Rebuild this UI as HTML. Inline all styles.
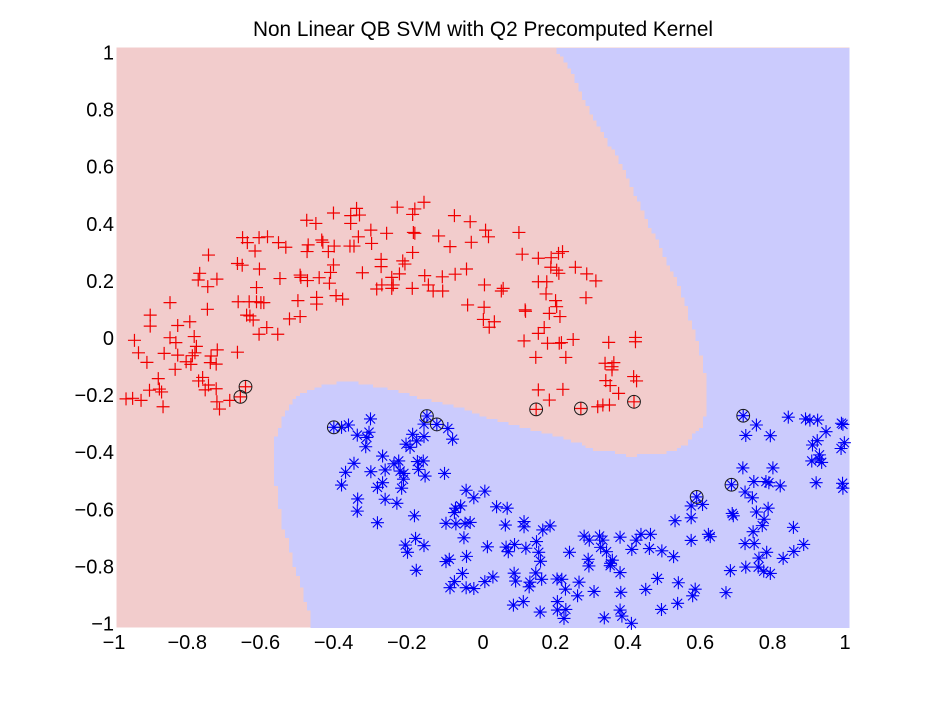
<!DOCTYPE html>
<html>
<head>
<meta charset="utf-8">
<title>Non Linear QB SVM with Q2 Precomputed Kernel</title>
<style>
html,body{margin:0;padding:0;background:#fff;width:933px;height:702px;overflow:hidden}
svg{display:block}
text{font-family:"Liberation Sans",Arial,sans-serif;fill:#000}
</style>
</head>
<body>
<svg id="chart" xmlns="http://www.w3.org/2000/svg" width="933" height="702" viewBox="0 0 933 702">
<text x="483" y="36" text-anchor="middle" font-size="20.8">Non Linear QB SVM with Q2 Precomputed Kernel</text>
<g id="regions"></g>
<g id="red-series"></g>
<g id="blue-series"></g>
<g id="sv-series"></g>
<g id="x-ticks"></g>
<g id="y-ticks"></g>
</svg>
<script>
const xTicks = [-1,-0.8,-0.6,-0.4,-0.2,0,0.2,0.4,0.6,0.8,1];
const yTicks = [1,0.8,0.6,0.4,0.2,0,-0.2,-0.4,-0.6,-0.8,-1];
const xLimits = [-1,1];
const yLimits = [-1,1];
const boundaryPoints = [[0.199,1],[0.210,0.966],[0.246,0.900],[0.270,0.831],[0.289,0.779],[0.319,0.724],[0.349,0.655],[0.379,0.586],[0.396,0.538],[0.417,0.486],[0.437,0.431],[0.458,0.372],[0.477,0.328],[0.497,0.269],[0.516,0.224],[0.527,0.203],[0.535,0.166],[0.546,0.134],[0.557,0.097],[0.565,0.062],[0.573,0.028],[0.584,-0.014],[0.595,-0.062],[0.606,-0.131],[0.606,-0.266],[0.595,-0.317],[0.584,-0.324],[0.573,-0.341],[0.565,-0.362],[0.554,-0.369],[0.535,-0.379],[0.516,-0.393],[0.486,-0.400],[0.401,-0.407],[0.374,-0.397],[0.311,-0.386],[0.265,-0.362],[0.120,-0.310],[0.038,-0.283],[-0.044,-0.248],[-0.117,-0.221],[-0.180,-0.203],[-0.240,-0.179],[-0.281,-0.169],[-0.341,-0.155],[-0.390,-0.155],[-0.439,-0.166],[-0.491,-0.190],[-0.513,-0.214],[-0.540,-0.255],[-0.548,-0.293],[-0.568,-0.362],[-0.568,-0.500],[-0.559,-0.548],[-0.548,-0.652],[-0.532,-0.707],[-0.518,-0.790],[-0.499,-0.834],[-0.491,-0.903],[-0.472,-0.948],[-0.469,-1],[1,-1],[1,1]];
const redPoints = [[-0.974,-0.210],[-0.956,-0.208],[-0.933,-0.215],[-0.873,-0.237],[-0.910,-0.180],[-0.886,-0.140],[-0.883,-0.176],[-0.877,-0.186],[-0.776,-0.148],[-0.765,-0.136],[-0.749,-0.162],[-0.758,-0.179],[-0.728,-0.175],[-0.726,-0.220],[-0.719,-0.245],[-0.691,-0.215],[-0.662,-0.203],[-0.648,-0.168],[-0.840,-0.108],[-0.810,-0.082],[-0.797,-0.091],[-0.793,-0.061],[-0.786,-0.051],[-0.782,-0.029],[-0.788,0.005],[-0.833,-0.059],[-0.870,-0.053],[-0.917,-0.084],[-0.940,-0.051],[-0.951,-0.008],[-0.854,0.001],[-0.838,-0.016],[-0.744,-0.085],[-0.728,-0.090],[-0.742,-0.062],[-0.725,-0.041],[-0.670,-0.049],[-0.908,0.079],[-0.908,0.041],[-0.833,0.043],[-0.800,0.056],[-0.752,0.099],[-0.854,0.122],[-0.749,0.286],[-0.773,0.223],[-0.777,0.200],[-0.726,0.203],[-0.751,0.177],[-0.668,0.125],[-0.638,0.125],[-0.618,0.174],[-0.610,0.238],[-0.670,0.257],[-0.657,0.251],[-0.622,0.300],[-0.656,0.346],[-0.643,0.329],[-0.611,0.346],[-0.588,0.349],[-0.558,0.329],[-0.538,0.313],[-0.481,0.406],[-0.456,0.395],[-0.408,0.431],[-0.618,0.125],[-0.606,0.122],[-0.598,0.122],[-0.645,0.079],[-0.636,0.076],[-0.627,0.062],[-0.590,0.036],[-0.611,0.013],[-0.560,0.013],[-0.528,0.066],[-0.499,0.074],[-0.505,0.129],[-0.454,0.140],[-0.454,0.117],[-0.401,0.146],[-0.554,0.205],[-0.499,0.217],[-0.497,0.209],[-0.479,0.198],[-0.447,0.208],[-0.419,0.189],[-0.416,0.226],[-0.408,0.252],[-0.480,0.298],[-0.477,0.321],[-0.440,0.338],[-0.437,0.330],[-0.422,0.298],[-0.406,0.317],[-0.345,0.447],[-0.361,0.422],[-0.337,0.424],[-0.361,0.395],[-0.234,0.451],[-0.186,0.445],[-0.192,0.426],[-0.161,0.468],[-0.078,0.422],[-0.035,0.401],[0.007,0.372],[0.015,0.349],[0.098,0.364],[-0.306,0.372],[-0.263,0.361],[-0.190,0.364],[-0.186,0.361],[-0.340,0.349],[-0.304,0.326],[-0.363,0.317],[-0.352,0.317],[-0.121,0.352],[-0.090,0.315],[-0.032,0.330],[-0.192,0.295],[-0.278,0.271],[-0.278,0.246],[-0.219,0.266],[-0.213,0.255],[-0.228,0.221],[-0.249,0.209],[-0.329,0.225],[-0.159,0.215],[-0.111,0.211],[-0.076,0.220],[-0.045,0.238],[-0.276,0.183],[-0.290,0.169],[-0.245,0.183],[-0.249,0.171],[-0.193,0.171],[-0.149,0.183],[-0.136,0.162],[-0.110,0.162],[0.004,0.183],[0.055,0.171],[0.050,0.162],[-0.042,0.114],[0.003,0.106],[0.001,0.064],[0.031,0.056],[0.017,0.037],[0.115,0.097],[0.116,0.092],[0.112,-0.010],[0.144,-0.067],[0.151,0.275],[0.107,0.289],[0.186,0.277],[0.206,0.292],[0.217,0.298],[0.185,0.244],[0.201,0.234],[0.207,0.223],[0.252,0.244],[0.283,0.221],[0.308,0.197],[0.281,0.139],[0.151,0.194],[0.174,0.194],[0.172,0.152],[0.198,0.129],[0.201,0.108],[0.181,0.085],[0.210,0.074],[0.167,0.036],[0.151,0.016],[0.176,-0.018],[0.208,-0.018],[0.214,-0.016],[0.246,-0.005],[0.226,-0.067],[0.343,-0.015],[0.416,0.002],[0.416,-0.013],[0.333,-0.087],[0.357,-0.085],[0.352,-0.099],[0.352,-0.110],[0.335,-0.147],[0.347,-0.164],[0.411,-0.133],[0.419,-0.148],[0.370,-0.191],[0.313,-0.237],[0.327,-0.231],[0.345,-0.231],[0.151,-0.179],[0.218,-0.177],[0.181,-0.214],[0.145,-0.246],[0.267,-0.243],[0.412,-0.220],[-0.383,0.134]];
const bluePoints = [[-0.407,-0.308],[-0.386,-0.308],[-0.367,-0.300],[-0.343,-0.335],[-0.307,-0.279],[-0.311,-0.325],[-0.317,-0.343],[-0.320,-0.375],[-0.274,-0.407],[-0.352,-0.432],[-0.375,-0.463],[-0.386,-0.507],[-0.306,-0.461],[-0.267,-0.455],[-0.243,-0.434],[-0.230,-0.424],[-0.226,-0.459],[-0.216,-0.467],[-0.217,-0.487],[-0.222,-0.518],[-0.274,-0.499],[-0.288,-0.515],[-0.267,-0.556],[-0.235,-0.570],[-0.342,-0.555],[-0.343,-0.597],[-0.288,-0.637],[-0.187,-0.613],[-0.184,-0.691],[-0.212,-0.714],[-0.206,-0.739],[-0.161,-0.716],[-0.182,-0.801],[-0.192,-0.332],[-0.181,-0.355],[-0.161,-0.340],[-0.210,-0.366],[-0.199,-0.377],[-0.161,-0.297],[-0.153,-0.269],[-0.126,-0.298],[-0.096,-0.312],[-0.083,-0.349],[-0.179,-0.426],[-0.163,-0.424],[-0.176,-0.453],[-0.158,-0.476],[-0.105,-0.467],[-0.046,-0.525],[-0.025,-0.551],[0.005,-0.528],[0.037,-0.582],[0.066,-0.587],[-0.061,-0.579],[-0.075,-0.587],[-0.078,-0.602],[-0.101,-0.639],[-0.074,-0.641],[-0.049,-0.639],[-0.035,-0.636],[-0.052,-0.689],[0.061,-0.645],[0.112,-0.633],[0.112,-0.651],[0.163,-0.662],[0.183,-0.648],[0.012,-0.720],[-0.045,-0.753],[-0.092,-0.763],[-0.101,-0.771],[0.063,-0.721],[0.069,-0.737],[0.086,-0.712],[0.117,-0.725],[0.146,-0.702],[0.152,-0.739],[0.157,-0.770],[0.236,-0.739],[-0.056,-0.812],[-0.078,-0.840],[-0.090,-0.861],[-0.046,-0.861],[-0.025,-0.864],[0.005,-0.840],[0.027,-0.824],[0.085,-0.811],[0.089,-0.838],[0.144,-0.810],[0.128,-0.842],[0.126,-0.858],[0.160,-0.832],[0.202,-0.831],[0.215,-0.832],[0.225,-0.866],[0.262,-0.842],[0.258,-0.889],[0.083,-0.921],[0.110,-0.909],[0.156,-0.945],[0.203,-0.909],[0.203,-0.938],[0.226,-0.936],[0.221,-0.967],[0.276,-0.683],[0.290,-0.697],[0.318,-0.683],[0.327,-0.697],[0.321,-0.722],[0.337,-0.737],[0.374,-0.687],[0.418,-0.697],[0.431,-0.677],[0.457,-0.677],[0.406,-0.729],[0.454,-0.726],[0.488,-0.734],[0.520,-0.754],[0.287,-0.763],[0.289,-0.786],[0.353,-0.766],[0.348,-0.777],[0.347,-0.785],[0.374,-0.809],[0.476,-0.829],[0.533,-0.844],[0.303,-0.874],[0.376,-0.877],[0.444,-0.867],[0.579,-0.866],[0.572,-0.889],[0.663,-0.878],[0.531,-0.915],[0.487,-0.936],[0.374,-0.938],[0.379,-0.959],[0.331,-0.965],[0.405,-0.984],[0.568,-0.698],[0.615,-0.677],[0.620,-0.685],[0.524,-0.630],[0.568,-0.620],[0.568,-0.579],[0.599,-0.574],[0.583,-0.548],[0.678,-0.506],[0.710,-0.268],[0.746,-0.300],[0.717,-0.336],[0.784,-0.337],[0.833,-0.273],[0.880,-0.279],[0.892,-0.283],[0.913,-0.283],[0.978,-0.294],[0.982,-0.298],[0.936,-0.323],[0.986,-0.361],[0.977,-0.381],[0.912,-0.354],[0.899,-0.369],[0.918,-0.403],[0.897,-0.424],[0.924,-0.429],[0.917,-0.418],[0.709,-0.448],[0.791,-0.448],[0.739,-0.495],[0.772,-0.495],[0.780,-0.499],[0.811,-0.510],[0.715,-0.531],[0.735,-0.551],[0.909,-0.499],[0.981,-0.501],[0.982,-0.518],[0.778,-0.587],[0.746,-0.600],[0.680,-0.605],[0.683,-0.613],[0.767,-0.625],[0.762,-0.647],[0.847,-0.653],[0.737,-0.668],[0.715,-0.709],[0.740,-0.709],[0.875,-0.712],[0.848,-0.736],[0.819,-0.760],[0.753,-0.759],[0.774,-0.739],[0.717,-0.790],[0.675,-0.802],[0.751,-0.790],[0.766,-0.804],[0.784,-0.812]];
const supportVectors = [[-0.662,-0.203],[-0.648,-0.168],[0.145,-0.246],[0.267,-0.243],[0.412,-0.220],[-0.407,-0.308],[-0.153,-0.269],[-0.126,-0.298],[0.583,-0.548],[0.678,-0.506],[0.710,-0.268]];

const SVGNS = 'http://www.w3.org/2000/svg';
const xCenter = 483, xHalf = 366.5, yCenter = 338, yHalf = 290;
function xScale(v){ return xCenter + xHalf * v; }
function yScale(v){ return yCenter - yHalf * v; }
function xLabelPos(v){ return v < 0 ? xCenter + 366 * v - 3 : xCenter + 362 * v; }
function yLabelPos(v){ return 338.5 - 285.5 * v; }
function make(tag, parent){
  const el = document.createElementNS(SVGNS, tag);
  parent.appendChild(el);
  return el;
}
function fmt(v){ return v < 0 ? '\u2212' + Math.abs(v) : String(v); }
function steppedBoundary(points){
  const gridX = 0.01, gridY = 0.01;
  let d = '';
  let lastX = null, lastY = null;
  for (let i = 0; i < points.length - 1; i++){
    const a = points[i], b = points[i + 1];
    const n = Math.max(1, Math.ceil(Math.max(Math.abs(b[0] - a[0]) / gridX, Math.abs(b[1] - a[1]) / gridY)));
    for (let k = 0; k <= n; k++){
      const qx = Math.round((a[0] + (b[0] - a[0]) * k / n) / gridX) * gridX;
      const qy = Math.round((a[1] + (b[1] - a[1]) * k / n) / gridY) * gridY;
      if (lastX === null){
        d += 'M' + xScale(qx).toFixed(1) + ' ' + yScale(qy).toFixed(1);
      } else {
        if (qx !== lastX) d += 'H' + xScale(qx).toFixed(1);
        if (qy !== lastY) d += 'V' + yScale(qy).toFixed(1);
      }
      lastX = qx; lastY = qy;
    }
  }
  return d + 'Z';
}

const regions = document.getElementById('regions');
const bg = make('rect', regions);


bg.setAttribute('x', xScale(xLimits[0]));
bg.setAttribute('y', yScale(yLimits[1]) - 0.5);
bg.setAttribute('width', xScale(xLimits[1]) - xScale(xLimits[0]));
bg.setAttribute('height', yScale(yLimits[0]) - yScale(yLimits[1]));
bg.setAttribute('fill', '#f2cccc');

const blueRegion = make('path', regions);


blueRegion.setAttribute('d', steppedBoundary(boundaryPoints));
blueRegion.setAttribute('fill', '#cbcbfd');
blueRegion.setAttribute('shape-rendering', 'crispEdges');

const redGroup = document.getElementById('red-series');
redPoints.forEach(function(p){
  const cx = xScale(p[0]), cy = yScale(p[1]);
  const m = make('path', redGroup);
  
  
  m.setAttribute('d', 'M' + (cx - 6.5) + ' ' + cy + 'H' + (cx + 6.5) + 'M' + cx + ' ' + (cy - 6.5) + 'V' + (cy + 6.5));
  m.setAttribute('stroke', '#f00000');
  m.setAttribute('stroke-width', '1.2');
  m.setAttribute('fill', 'none');
});

const blueGroup = document.getElementById('blue-series');
bluePoints.forEach(function(p){
  const cx = xScale(p[0]), cy = yScale(p[1]);
  const a = 6.5, d = 4.6;
  const m = make('path', blueGroup);
  
  
  m.setAttribute('d', 'M' + (cx - a) + ' ' + cy + 'H' + (cx + a) + 'M' + cx + ' ' + (cy - a) + 'V' + (cy + a) +
    'M' + (cx - d) + ' ' + (cy - d) + 'L' + (cx + d) + ' ' + (cy + d) + 'M' + (cx - d) + ' ' + (cy + d) + 'L' + (cx + d) + ' ' + (cy - d));
  m.setAttribute('stroke', '#0000f5');
  m.setAttribute('stroke-width', '1.1');
  m.setAttribute('fill', 'none');
});

const svGroup = document.getElementById('sv-series');
supportVectors.forEach(function(p){
  const c = make('circle', svGroup);
  
  
  c.setAttribute('cx', xScale(p[0]));
  c.setAttribute('cy', yScale(p[1]));
  c.setAttribute('r', '6.4');
  c.setAttribute('fill', 'none');
  c.setAttribute('stroke', '#1a1a1a');
  c.setAttribute('stroke-width', '1');
});

const xGroup = document.getElementById('x-ticks');
xTicks.forEach(function(v){
  const t = make('text', xGroup);
  
  
  t.setAttribute('x', xLabelPos(v));
  t.setAttribute('y', 649);
  t.setAttribute('text-anchor', 'middle');
  t.setAttribute('font-size', '20');
  t.textContent = fmt(v);
});

const yGroup = document.getElementById('y-ticks');
yTicks.forEach(function(v){
  const t = make('text', yGroup);
  
  
  t.setAttribute('x', 114);
  t.setAttribute('y', yLabelPos(v) + 6.5);
  t.setAttribute('text-anchor', 'end');
  t.setAttribute('font-size', '20');
  t.textContent = fmt(v);
});
</script>
</body>
</html>
